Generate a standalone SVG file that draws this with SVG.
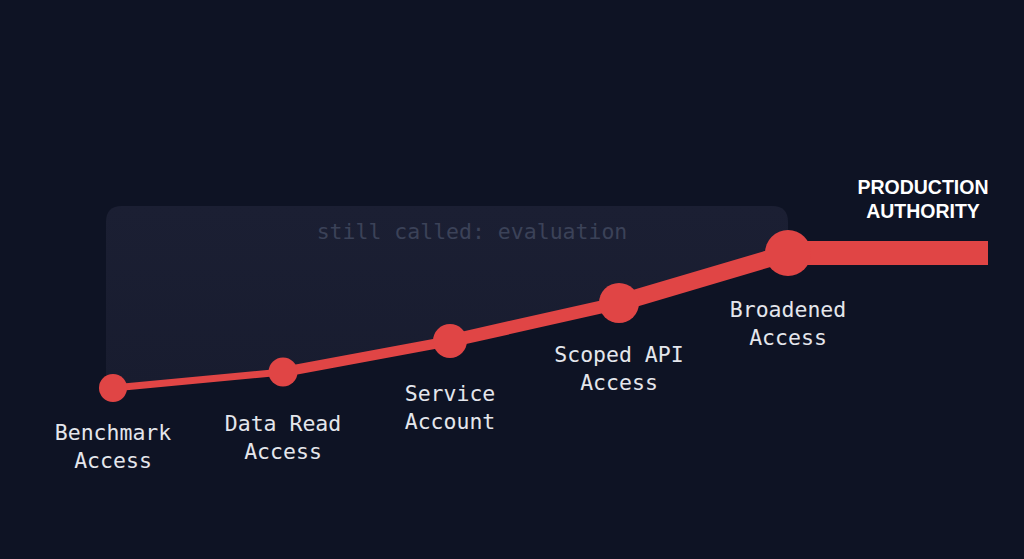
<svg xmlns="http://www.w3.org/2000/svg" width="1024" height="559" viewBox="0 0 1024 559">
<defs>
<linearGradient id="panelGrad" x1="0" y1="0" x2="0" y2="1">
<stop offset="0" stop-color="#1b1f33"/>
<stop offset="1" stop-color="#181c2f"/>
</linearGradient>
<style>
.lbl{font-family:"DejaVu Sans Mono","Liberation Mono",monospace;font-size:21.5px;fill:#e4e6ec;text-anchor:middle}
.note{font-family:"DejaVu Sans Mono","Liberation Mono",monospace;font-size:21.5px;fill:#3b4258;text-anchor:middle}
.title{font-family:"Liberation Sans",Arial,sans-serif;font-weight:bold;font-size:19.5px;fill:#ffffff;text-anchor:middle}
.seg{stroke:#e04545;fill:none;stroke-linecap:round}
.dot{fill:#e04545}
</style>
</defs>
<rect width="1024" height="559" fill="#0e1324"/>
<g id="panel">
<path d="M106,222 Q106,206 122,206 L772,206 Q788,206 788,222 L788,253 L619,303 L450,341 L283,372 L113,388 L106,388 Z" fill="url(#panelGrad)"/>
<text class="note" x="472" y="239">still called: evaluation</text>
</g>
<g id="connectors">
<line class="seg" x1="113" y1="388" x2="283" y2="372" stroke-width="7"/>
<line class="seg" x1="283" y1="372" x2="450" y2="341" stroke-width="10"/>
<line class="seg" x1="450" y1="341" x2="619" y2="303" stroke-width="13"/>
<line class="seg" x1="619" y1="303" x2="788" y2="253" stroke-width="17"/>
<rect x="788" y="241" width="200" height="24" fill="#e04545"/>
</g>
<g id="node-benchmark">
<circle class="dot" cx="113" cy="388" r="14"/>
<text class="lbl" x="113" y="440">Benchmark</text>
<text class="lbl" x="113" y="468">Access</text>
</g>
<g id="node-dataread">
<circle class="dot" cx="283" cy="372" r="14.5"/>
<text class="lbl" x="283" y="431">Data Read</text>
<text class="lbl" x="283" y="459">Access</text>
</g>
<g id="node-service">
<circle class="dot" cx="450" cy="341" r="17"/>
<text class="lbl" x="450" y="401">Service</text>
<text class="lbl" x="450" y="429">Account</text>
</g>
<g id="node-scoped">
<circle class="dot" cx="619" cy="303" r="20"/>
<text class="lbl" x="619" y="362">Scoped API</text>
<text class="lbl" x="619" y="390">Access</text>
</g>
<g id="node-broadened">
<circle class="dot" cx="788" cy="253" r="23"/>
<text class="lbl" x="788" y="317">Broadened</text>
<text class="lbl" x="788" y="345">Access</text>
</g>
<g id="node-production">
<text class="title" x="923" y="194">PRODUCTION</text>
<text class="title" x="923" y="218">AUTHORITY</text>
</g>
</svg>
